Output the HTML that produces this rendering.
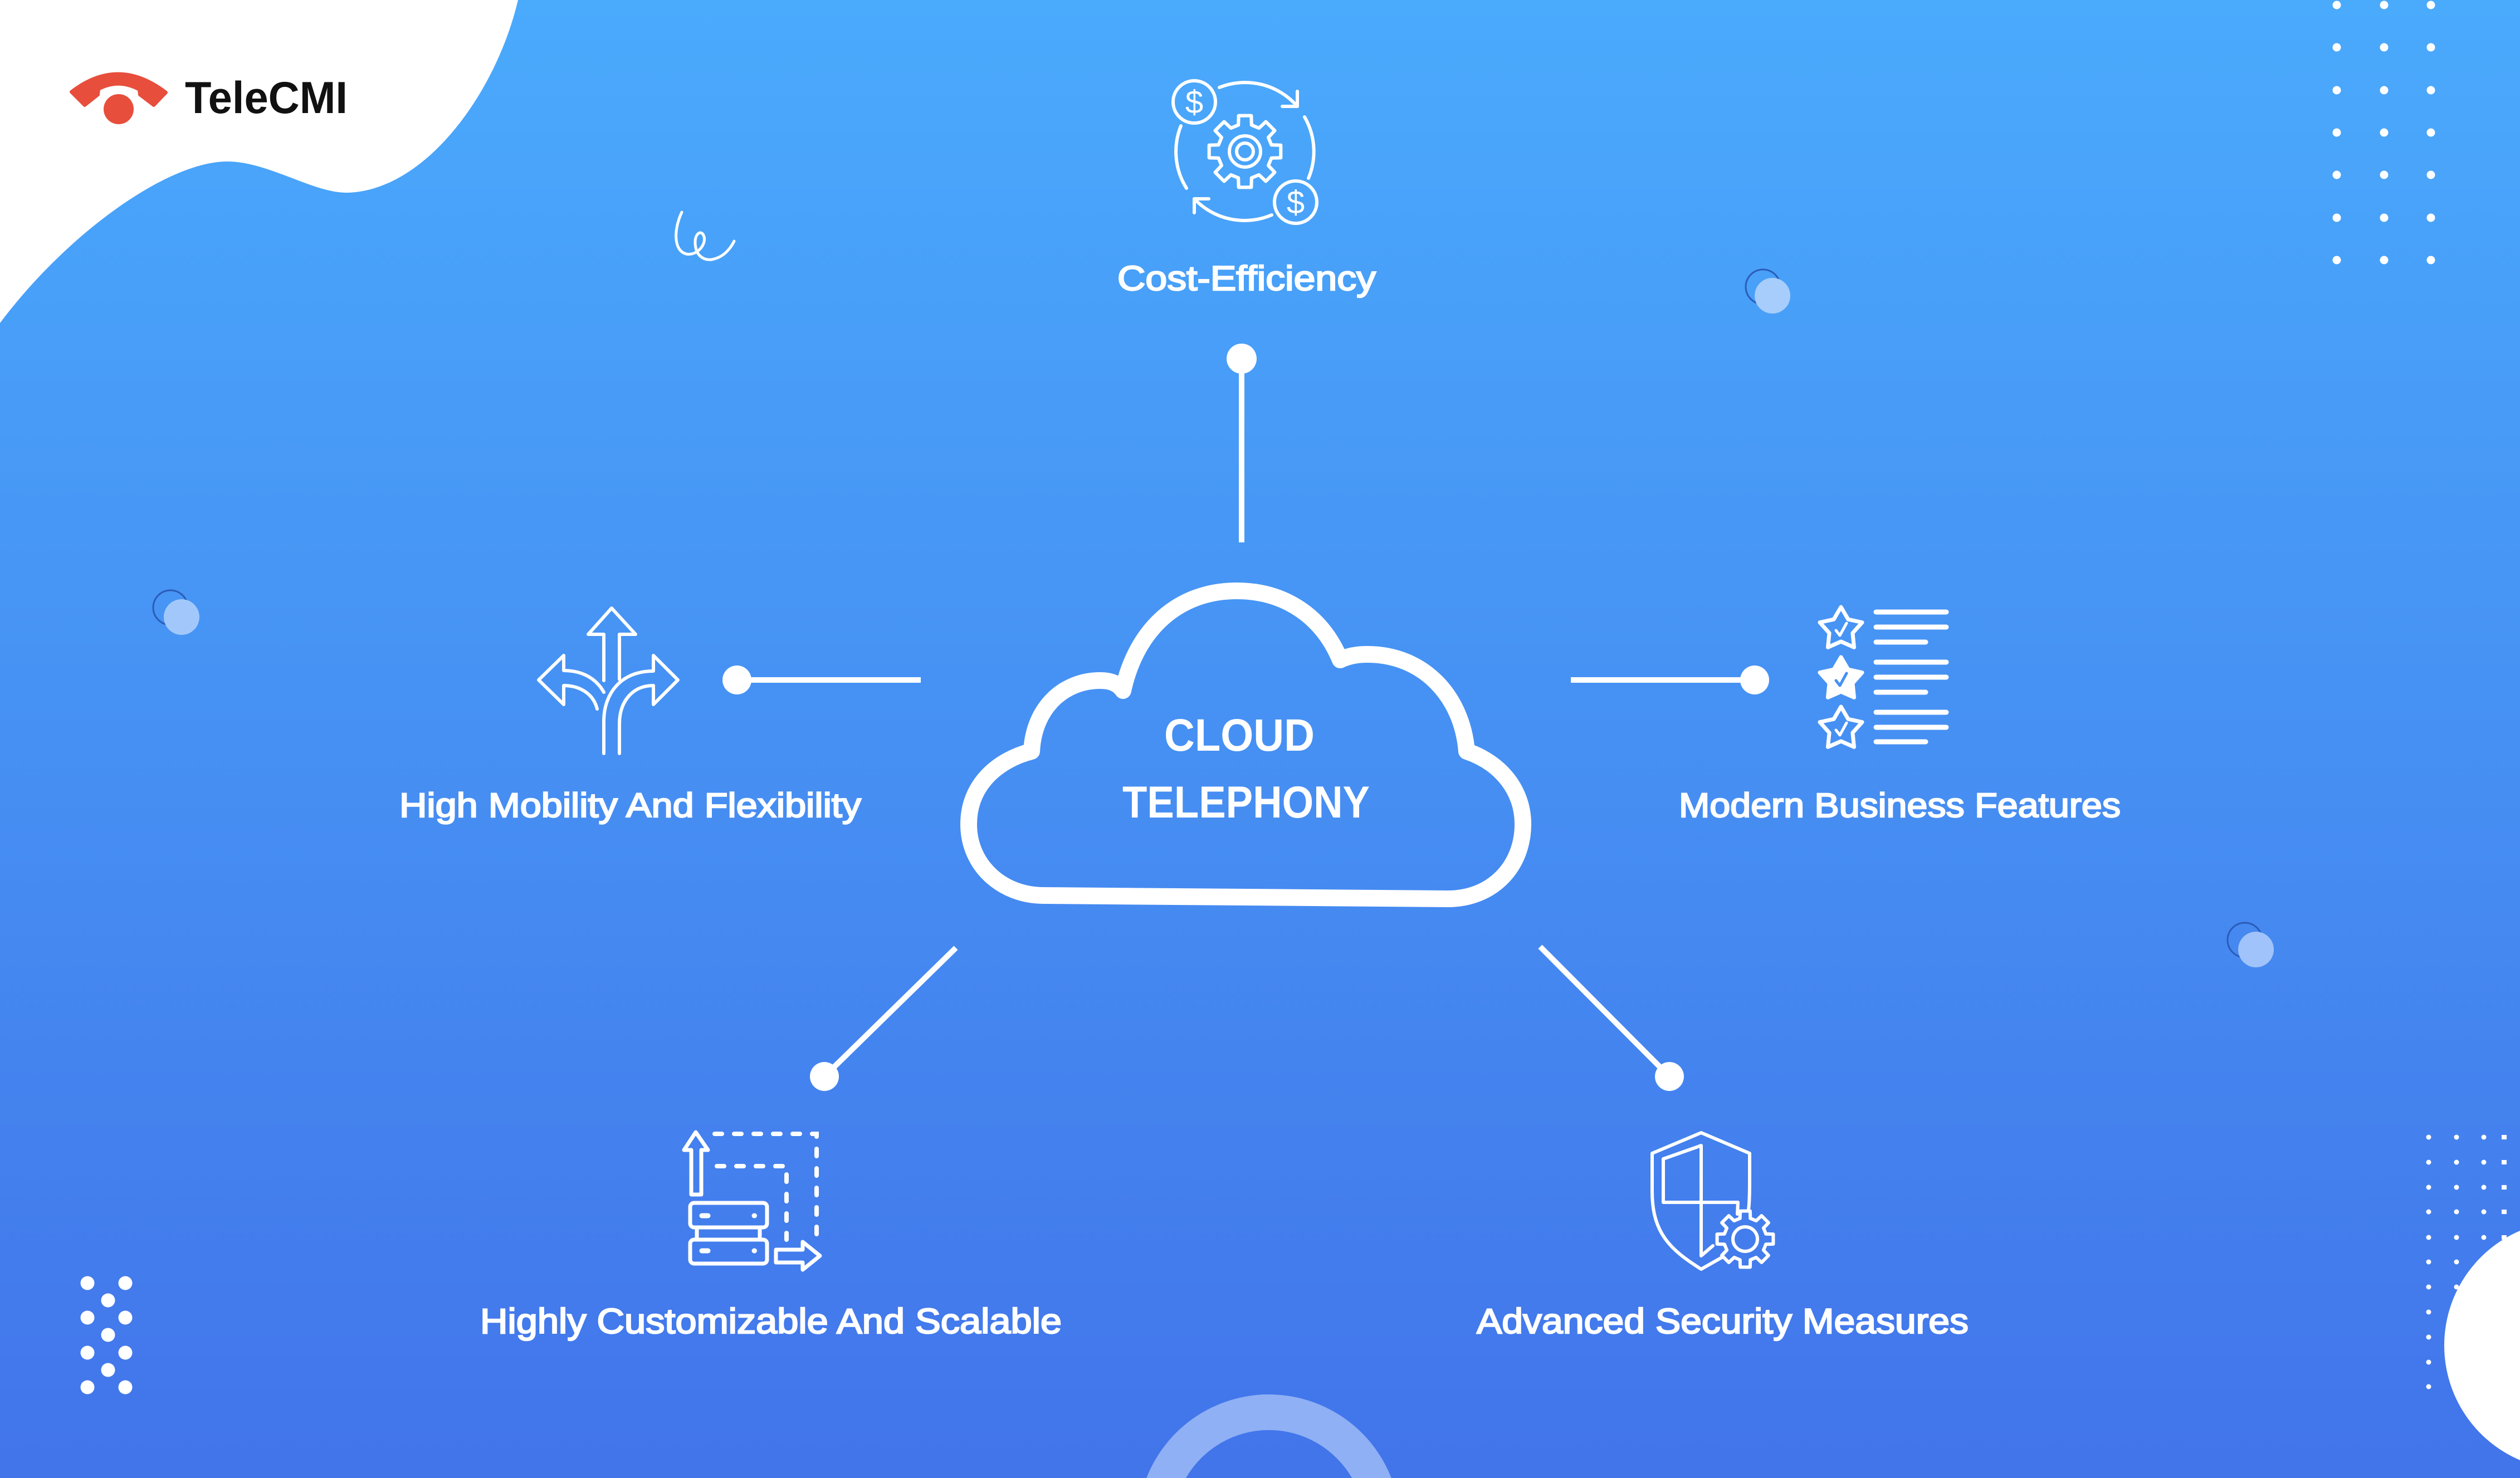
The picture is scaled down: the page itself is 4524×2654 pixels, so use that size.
<!DOCTYPE html>
<html>
<head>
<meta charset="utf-8">
<style>
html,body{margin:0;padding:0;width:4524px;height:2654px;overflow:hidden;background:#4690f3}
svg{display:block;overflow:hidden}
</style>
</head>
<body>
<svg width="4524" height="2654" viewBox="0 0 4524 2654" xmlns="http://www.w3.org/2000/svg">
<defs>
<linearGradient id="bg" x1="0" y1="0" x2="0" y2="1">
<stop offset="0" stop-color="#4aaafc"/>
<stop offset="0.5" stop-color="#4690f3"/>
<stop offset="1" stop-color="#4274ea"/>
</linearGradient>
<path id="gear" d="M46.57,-11.61 L63.03,-11.11 L63.03,11.11 L46.57,11.61 L41.15,24.72 L52.43,36.71 L36.71,52.43 L24.72,41.15 L11.61,46.57 L11.11,63.03 L-11.11,63.03 L-11.61,46.57 L-24.72,41.15 L-36.71,52.43 L-52.43,36.71 L-41.15,24.72 L-46.57,11.61 L-63.03,11.11 L-63.03,-11.11 L-46.57,-11.61 L-41.15,-24.72 L-52.43,-36.71 L-36.71,-52.43 L-24.72,-41.15 L-11.61,-46.57 L-11.11,-63.03 L11.11,-63.03 L11.61,-46.57 L24.72,-41.15 L36.71,-52.43 L52.43,-36.71 L41.15,-24.72 Z"/>
<path id="star" d="M0,-40 L12.94,-17.8 L38.04,-12.36 L20.92,6.8 L23.51,32.36 L0,22 L-23.51,32.36 L-20.92,6.8 L-38.04,-12.36 L-12.94,-17.8 Z"/>
</defs>

<!-- background -->
<rect x="0" y="0" width="4524" height="2654" fill="url(#bg)"/>

<!-- white blob top-left -->
<path d="M0,0 L930,0 C890,170 760,346 620,346 C560,345 480,290 408,290 C300,290 120,420 0,580 Z" fill="#ffffff"/>

<!-- logo -->
<path d="M128,165 Q212,100 298,166 L276,189 L251,170 L250,161 Q213,141 177,160 L176,170 L152,189 Z" fill="#e84e3c" stroke="#e84e3c" stroke-width="6" stroke-linejoin="round"/>
<circle cx="213" cy="196" r="27" fill="#e84e3c"/>
<text x="332" y="203" font-family="Liberation Sans, sans-serif" font-weight="bold" font-size="81" fill="#111111" textLength="292" lengthAdjust="spacingAndGlyphs">TeleCMI</text>

<!-- squiggle -->
<path d="M1224,381 C1210,410 1208,450 1232,456 C1250,460 1268,440 1264,425 C1260,412 1248,418 1248,435 C1248,458 1262,468 1278,466 C1300,462 1312,445 1318,433" fill="none" stroke="#ffffff" stroke-width="5" stroke-linecap="round"/>

<!-- top-right dot grid -->
<g fill="#ffffff">
<circle cx="4195" cy="9" r="7.5"/><circle cx="4280" cy="9" r="7.5"/><circle cx="4364" cy="9" r="7.5"/>
<circle cx="4195" cy="85" r="7.5"/><circle cx="4280" cy="85" r="7.5"/><circle cx="4364" cy="85" r="7.5"/>
<circle cx="4195" cy="162" r="7.5"/><circle cx="4280" cy="162" r="7.5"/><circle cx="4364" cy="162" r="7.5"/>
<circle cx="4195" cy="238" r="7.5"/><circle cx="4280" cy="238" r="7.5"/><circle cx="4364" cy="238" r="7.5"/>
<circle cx="4195" cy="314" r="7.5"/><circle cx="4280" cy="314" r="7.5"/><circle cx="4364" cy="314" r="7.5"/>
<circle cx="4195" cy="391" r="7.5"/><circle cx="4280" cy="391" r="7.5"/><circle cx="4364" cy="391" r="7.5"/>
<circle cx="4195" cy="467" r="7.5"/><circle cx="4280" cy="467" r="7.5"/><circle cx="4364" cy="467" r="7.5"/>
</g>

<!-- decorative bubbles -->
<circle cx="3165" cy="515" r="31" fill="none" stroke="#2b5cb8" stroke-width="3"/>
<circle cx="3182" cy="531" r="32" fill="#a6cdfc"/>
<circle cx="306" cy="1091" r="31" fill="none" stroke="#2b5cb8" stroke-width="3"/>
<circle cx="326" cy="1108" r="32" fill="#a2c8fb"/>
<circle cx="4030" cy="1688" r="31" fill="none" stroke="#2b5cb8" stroke-width="3"/>
<circle cx="4050" cy="1705" r="32" fill="#9fc3fa"/>

<!-- bottom-left dots -->
<g fill="#ffffff">
<circle cx="157" cy="2304" r="12.5"/><circle cx="225" cy="2304" r="12.5"/>
<circle cx="194" cy="2335" r="12.5"/>
<circle cx="157" cy="2366" r="12.5"/><circle cx="225" cy="2366" r="12.5"/>
<circle cx="194" cy="2397" r="12.5"/>
<circle cx="157" cy="2429" r="12.5"/><circle cx="225" cy="2429" r="12.5"/>
<circle cx="194" cy="2460" r="12.5"/>
<circle cx="157" cy="2491" r="12.5"/><circle cx="225" cy="2491" r="12.5"/>
</g>

<!-- bottom-right dot grid -->
<g fill="#ffffff">
<circle cx="4360" cy="2042" r="4.5"/><circle cx="4410" cy="2042" r="4.5"/><circle cx="4459" cy="2042" r="4.5"/><rect x="4491" y="2038" width="9" height="8"/>
<circle cx="4360" cy="2087" r="4.5"/><circle cx="4410" cy="2087" r="4.5"/><circle cx="4459" cy="2087" r="4.5"/><rect x="4491" y="2083" width="9" height="8"/>
<circle cx="4360" cy="2132" r="4.5"/><circle cx="4410" cy="2132" r="4.5"/><circle cx="4459" cy="2132" r="4.5"/><rect x="4491" y="2128" width="9" height="8"/>
<circle cx="4360" cy="2176" r="4.5"/><circle cx="4410" cy="2176" r="4.5"/><circle cx="4459" cy="2176" r="4.5"/><rect x="4491" y="2172" width="9" height="8"/>
<circle cx="4360" cy="2222" r="4.5"/><circle cx="4410" cy="2222" r="4.5"/><circle cx="4459" cy="2222" r="4.5"/><rect x="4491" y="2218" width="9" height="8"/>
<circle cx="4360" cy="2266" r="4.5"/><circle cx="4410" cy="2266" r="4.5"/>
<circle cx="4360" cy="2311" r="4.5"/><circle cx="4410" cy="2311" r="4.5"/>
<circle cx="4360" cy="2356" r="4.5"/>
<circle cx="4360" cy="2401" r="4.5"/>
<circle cx="4360" cy="2446" r="4.5"/>
<circle cx="4360" cy="2490" r="4.5"/>
</g>
<!-- white circle at right edge (clipped to frame) -->
<path d="M4524,2210 A224,224 0 0 0 4524,2622 Z" fill="#ffffff"/>

<!-- bottom arc (clipped to frame) -->
<path d="M2058.2,2654 A236,236 0 0 1 2497.8,2654 L2427,2654 A172,172 0 0 0 2129,2654 Z" fill="#8fb0f4"/>

<!-- connectors -->
<g stroke="#ffffff" stroke-width="10" fill="none">
<line x1="2229" y1="644" x2="2229" y2="974"/>
<line x1="1323" y1="1221" x2="1653" y2="1221"/>
<line x1="2820" y1="1221" x2="3150" y2="1221"/>
<line x1="1716" y1="1702" x2="1480" y2="1933"/>
<line x1="2765" y1="1700" x2="2997" y2="1933"/>
</g>
<g fill="#ffffff">
<circle cx="2229" cy="644" r="27"/>
<circle cx="1323" cy="1221" r="26"/>
<circle cx="3150" cy="1221" r="26"/>
<circle cx="1480" cy="1933" r="26"/>
<circle cx="2997" cy="1933" r="26"/>
</g>

<!-- cloud -->
<path d="M1873,1608 C1800,1608 1739,1555 1739,1480 C1739,1410 1790,1365 1852,1349 C1856,1270 1910,1222 1975,1222 C1995,1222 2008,1228 2016,1240 C2040,1130 2115,1061 2220,1061 C2310,1061 2375,1110 2406,1185 C2420,1178 2435,1175 2455,1175 C2555,1175 2625,1250 2633,1349 C2695,1370 2734,1420 2734,1480 C2734,1555 2680,1614 2599,1614 Z" fill="none" stroke="#ffffff" stroke-width="30" stroke-linejoin="round"/>
<text x="2090" y="1348" font-family="Liberation Sans, sans-serif" font-weight="bold" font-size="82" fill="#ffffff" textLength="270" lengthAdjust="spacingAndGlyphs">CLOUD</text>
<text x="2015" y="1468" font-family="Liberation Sans, sans-serif" font-weight="bold" font-size="81" fill="#ffffff" textLength="444" lengthAdjust="spacingAndGlyphs">TELEPHONY</text>

<!-- Cost-efficiency icon -->
<g fill="none" stroke="#ffffff" stroke-width="6" stroke-linecap="round" stroke-linejoin="round">
<use href="#gear" transform="translate(2235,272) scale(1.02)"/>
<circle cx="2235" cy="272" r="28"/>
<circle cx="2235" cy="272" r="15"/>
<circle cx="2144" cy="183" r="38"/>
<circle cx="2326" cy="363" r="38"/>
<path d="M2189,157 A124,124 0 0 1 2329,191"/>
<path d="M2329,164 L2329,191 L2302,191"/>
<path d="M2342,210 A124,124 0 0 1 2349,320"/>
<path d="M2283,386 A124,124 0 0 1 2144,357"/>
<path d="M2144,382 L2144,357 L2170,357"/>
<path d="M2130,338 A124,124 0 0 1 2120,226"/>
</g>
<text x="2144" y="203" text-anchor="middle" font-family="Liberation Sans, sans-serif" font-size="58" fill="#ffffff">$</text>
<text x="2326" y="383" text-anchor="middle" font-family="Liberation Sans, sans-serif" font-size="58" fill="#ffffff">$</text>
<text x="2006" y="521" font-family="Liberation Sans, sans-serif" font-size="62" fill="#ffffff" stroke="#ffffff" stroke-width="2.4" textLength="464" lengthAdjust="spacingAndGlyphs">Cost-Efficiency</text>

<!-- High mobility icon -->
<g fill="none" stroke="#ffffff" stroke-width="6" stroke-linecap="round" stroke-linejoin="round">
<path d="M1084,1222 L1084,1139 L1056,1139 L1098,1092 L1141,1139 L1112,1139 L1112,1220"/>
<path d="M1084,1353 L1084,1295 C1084,1245 1115,1205 1173,1205 L1173,1177 L1217,1221 L1173,1265 L1173,1231 C1135,1231 1112,1260 1112,1300 L1112,1353"/>
<path d="M1084,1243 C1070,1218 1045,1204 1012,1204 L1012,1177 L967,1221 L1012,1265 L1012,1231 C1040,1231 1065,1245 1072,1273"/>
</g>
<text x="717" y="1467" font-family="Liberation Sans, sans-serif" font-size="61" fill="#ffffff" stroke="#ffffff" stroke-width="2.4" textLength="829" lengthAdjust="spacingAndGlyphs">High Mobility And Flexibility</text>

<!-- Modern business icon -->
<g fill="none" stroke="#ffffff" stroke-width="7" stroke-linejoin="round">
<use href="#star" transform="translate(3305,1130)"/>
<use href="#star" transform="translate(3305,1309)"/>
</g>
<use href="#star" transform="translate(3305,1220)" fill="#ffffff" stroke="#ffffff" stroke-width="7" stroke-linejoin="round"/>
<g fill="none" stroke-width="5" stroke-linecap="round" stroke-linejoin="round">
<path d="M3296,1132 L3303,1141 L3315,1119" stroke="#ffffff"/>
<path d="M3296,1222 L3303,1231 L3315,1209" stroke="#4690f3"/>
<path d="M3296,1311 L3303,1320 L3315,1298" stroke="#ffffff"/>
</g>
<g stroke="#ffffff" stroke-width="9" stroke-linecap="round">
<line x1="3368" y1="1099" x2="3494" y2="1099"/>
<line x1="3368" y1="1126" x2="3494" y2="1126"/>
<line x1="3368" y1="1153" x2="3457" y2="1153"/>
<line x1="3368" y1="1189" x2="3494" y2="1189"/>
<line x1="3368" y1="1216" x2="3494" y2="1216"/>
<line x1="3368" y1="1243" x2="3457" y2="1243"/>
<line x1="3368" y1="1279" x2="3494" y2="1279"/>
<line x1="3368" y1="1306" x2="3494" y2="1306"/>
<line x1="3368" y1="1332" x2="3457" y2="1332"/>
</g>
<text x="3014" y="1467" font-family="Liberation Sans, sans-serif" font-size="61" fill="#ffffff" stroke="#ffffff" stroke-width="2.4" textLength="793" lengthAdjust="spacingAndGlyphs">Modern Business Features</text>

<!-- Scalable icon -->
<g fill="none" stroke="#ffffff" stroke-width="7" stroke-linecap="round" stroke-linejoin="round">
<path d="M1241,2145 L1241,2065 L1228,2065 L1249,2033 L1271,2065 L1259,2065 L1259,2145 Z"/>
<rect x="1239" y="2160" width="138" height="44" rx="7"/>
<rect x="1239" y="2226" width="138" height="43" rx="7"/>
<rect x="1251" y="2204" width="113" height="22"/>
<path d="M1393,2244 L1441,2244 L1441,2230 L1472,2255 L1441,2280 L1441,2267 L1393,2267 Z"/>
</g>
<g fill="none" stroke="#ffffff" stroke-width="8" stroke-linecap="round" stroke-dasharray="13 22">
<path d="M1283,2036 L1466,2036 L1466,2232"/>
<path d="M1287,2094 L1412,2094 L1412,2226"/>
</g>
<g stroke="#ffffff" stroke-width="9" stroke-linecap="round">
<line x1="1260" y1="2183" x2="1271" y2="2183"/>
<line x1="1354" y1="2183" x2="1354.5" y2="2183"/>
<line x1="1260" y1="2246" x2="1271" y2="2246"/>
<line x1="1354" y1="2246" x2="1354.5" y2="2246"/>
</g>
<text x="862" y="2394" font-family="Liberation Sans, sans-serif" font-size="63" fill="#ffffff" stroke="#ffffff" stroke-width="2.4" textLength="1044" lengthAdjust="spacingAndGlyphs">Highly Customizable And Scalable</text>

<!-- Security icon -->
<g fill="none" stroke="#ffffff" stroke-width="6" stroke-linecap="round" stroke-linejoin="round">
<path d="M3091,2258 L3054,2279 C3000,2245 2966,2215 2966,2140 L2966,2071 L3054,2034 L3141,2071 L3141,2120 C3141,2150 3140,2165 3139,2172"/>
<path d="M3075,2237 L3054,2255 L3054,2057 L2986,2081 L2986,2159 L3120,2159 L3119,2180"/>
<use href="#gear" transform="translate(3133,2225) scale(0.8)" stroke-width="7.5"/>
<circle cx="3133" cy="2225" r="22"/>
</g>
<text x="2651" y="2394" font-family="Liberation Sans, sans-serif" font-size="63" fill="#ffffff" stroke="#ffffff" stroke-width="2.4" textLength="883" lengthAdjust="spacingAndGlyphs">Advanced Security Measures</text>

</svg>
</body>
</html>
